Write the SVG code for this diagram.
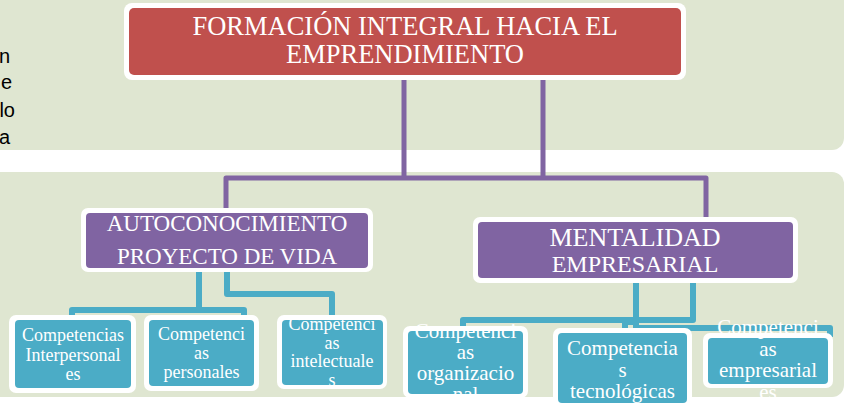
<svg xmlns="http://www.w3.org/2000/svg" width="845" height="404" viewBox="0 0 845 404">
<style>
.bg{fill:#DFE6D1}
.frame{fill:#FFFFFF}
.red{fill:#C0504D}
.pur{fill:#8064A2}
.teal{fill:#4BACC6}
.t{font-family:"Liberation Serif","Times New Roman",serif;fill:#FFFFFF;text-anchor:middle}
.side{font-family:"Liberation Sans",Arial,sans-serif;fill:#000000;font-size:20px;text-anchor:end}
.pc{fill:none;stroke:#8064A2;stroke-width:5;stroke-linejoin:round}
.tc{fill:none;stroke:#4BACC6;stroke-width:6;stroke-linejoin:round}
</style>
<rect x="0" y="0" width="845" height="404" fill="#FFFFFF"/>
<rect class="bg" x="-20" y="-20" width="864" height="170" rx="12"/>
<rect class="bg" x="-20" y="172" width="864" height="225" rx="12"/>
<g id="side-text">
<text class="side" x="10" y="63">n</text>
<text class="side" x="12" y="89">e</text>
<text class="side" x="15" y="117">lo</text>
<text class="side" x="10" y="144">a</text>
</g>
<g id="connectors">
<path class="pc" d="M404 78 V178 M543 78 V178 M226 210 V178 H706 V219"/>
<path class="tc" d="M199 270 V310 H72 V318 M199 310 H244 V318 M227 270 V294 H332 V318"/>
<path class="tc" d="M693 283 V320 H463 V329 M636 283 V322 H625 V331 M636 283 V328 H830 V337"/>
</g>
<g id="n-formacion">
<rect class="frame" x="124" y="3" width="562" height="77" rx="8"/>
<rect class="red" x="129" y="8" width="552" height="67" rx="5"/>
<text class="t" x="405" y="35" font-size="26.5">FORMACIÓN INTEGRAL HACIA EL</text>
<text class="t" x="405" y="63" font-size="26.5">EMPRENDIMIENTO</text>
</g>
<g id="n-autoconocimiento">
<rect class="frame" x="81" y="208" width="292" height="64" rx="7"/>
<rect class="pur" x="86" y="213" width="282" height="55" rx="4"/>
<text class="t" x="227" y="231" font-size="23">AUTOCONOCIMIENTO</text>
<text class="t" x="227" y="264" font-size="23">PROYECTO DE VIDA</text>
</g>
<g id="n-mentalidad">
<rect class="frame" x="473" y="217" width="325" height="66" rx="7"/>
<rect class="pur" x="478" y="222" width="315" height="56" rx="4"/>
<text class="t" x="635" y="246" font-size="26">MENTALIDAD</text>
<text class="t" x="635" y="272" font-size="24">EMPRESARIAL</text>
</g>
<g id="n-interpersonales">
<rect class="frame" x="9" y="315" width="127" height="78" rx="7"/>
<rect class="teal" x="15" y="320" width="116" height="68" rx="4"/>
<text class="t" x="73" y="341" font-size="18">Competencias</text>
<text class="t" x="73" y="361" font-size="18">Interpersonal</text>
<text class="t" x="73" y="380" font-size="18">es</text>
</g>
<g id="n-personales">
<rect class="frame" x="144" y="315" width="115" height="76" rx="7"/>
<rect class="teal" x="149" y="320" width="105" height="66" rx="4"/>
<text class="t" x="201.5" y="340" font-size="18">Competenci</text>
<text class="t" x="201.5" y="359" font-size="18">as</text>
<text class="t" x="201.5" y="378" font-size="18">personales</text>
</g>
<g id="n-intelectuales">
<rect class="frame" x="277" y="315" width="110" height="74" rx="7"/>
<rect class="teal" x="282" y="320" width="101" height="65" rx="4"/>
<text class="t" x="332" y="330" font-size="18">Competenci</text>
<text class="t" x="332" y="349" font-size="18">as</text>
<text class="t" x="332" y="367" font-size="18">intelectuale</text>
<text class="t" x="332" y="386" font-size="18">s</text>
</g>
<g id="n-organizacional">
<rect class="frame" x="403" y="326" width="125" height="72" rx="7"/>
<rect class="teal" x="408" y="331" width="115" height="63" rx="4"/>
<text class="t" x="465.5" y="338" font-size="21">Competenci</text>
<text class="t" x="465.5" y="359" font-size="21">as</text>
<text class="t" x="465.5" y="380" font-size="21">organizacio</text>
<text class="t" x="465.5" y="401" font-size="21">nal</text>
</g>
<g id="n-tecnologicas">
<rect class="frame" x="553" y="328" width="139" height="80" rx="7"/>
<rect class="teal" x="558" y="333" width="129" height="70" rx="4"/>
<text class="t" x="622.5" y="355" font-size="21">Competencia</text>
<text class="t" x="622.5" y="376.5" font-size="21">s</text>
<text class="t" x="622.5" y="398" font-size="21">tecnológicas</text>
</g>
<g id="n-empresariales">
<rect class="frame" x="703" y="333" width="130" height="55" rx="7"/>
<rect class="teal" x="708" y="338" width="120" height="46" rx="4"/>
<text class="t" x="768" y="334" font-size="21">Competenci</text>
<text class="t" x="768" y="356" font-size="21">as</text>
<text class="t" x="768" y="377" font-size="21">empresarial</text>
<text class="t" x="768" y="399" font-size="21">es</text>
</g>
</svg>
